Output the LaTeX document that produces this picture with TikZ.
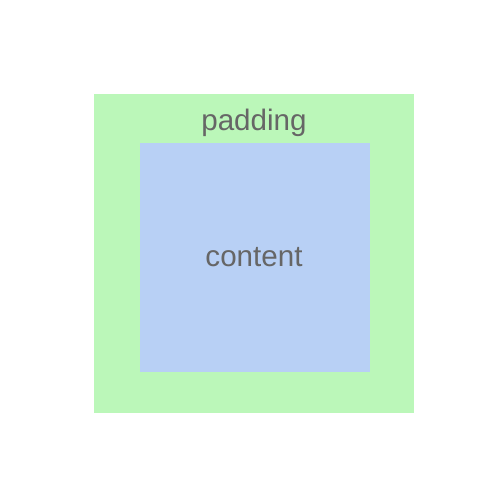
\documentclass[tikz,border=0pt]{standalone}
\usepackage{fontspec}
\setmainfont{Liberation Sans}
\definecolor{padfill}{RGB}{187,247,185}
\definecolor{contfill}{RGB}{184,208,245}
\definecolor{labeltext}{RGB}{102,102,102}
\begin{document}
\begin{tikzpicture}[x=1pt,y=-1pt,
  lbl/.style={text=labeltext,font=\fontsize{29.6}{34}\selectfont,anchor=base,inner sep=0pt}]
\useasboundingbox (0,0) rectangle (500,500);
\fill[padfill] (94,94) rectangle (414,413);
\fill[contfill] (140,143) rectangle (370,372);
\node[lbl] (padding) at (254,130) {padding};
\node[lbl] (content) at (254,266) {content};
\end{tikzpicture}
\end{document}
